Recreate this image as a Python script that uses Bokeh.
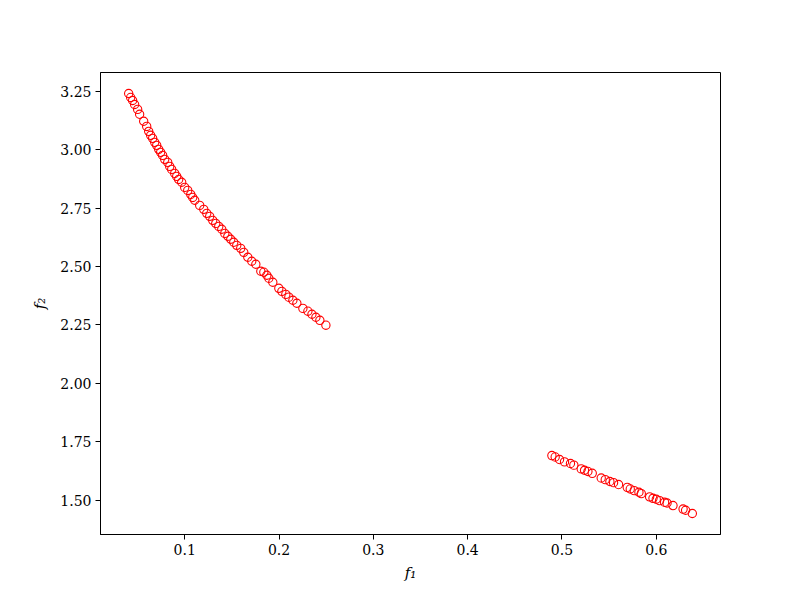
from bokeh.plotting import figure
from bokeh.models import FixedTicker, PrintfTickFormatter, Range1d, ColumnDataSource
from bokeh.embed import file_html
from bokeh.resources import INLINE

# Pareto front, first segment
f1_a = [0.0406, 0.0427, 0.0448, 0.0469, 0.0501, 0.0522, 0.0565, 0.0597, 0.0618, 0.0639,
        0.0660, 0.0682, 0.0703, 0.0724, 0.0745, 0.0766, 0.0788, 0.0820, 0.0841, 0.0862,
        0.0894, 0.0915, 0.0936, 0.0968, 0.1000, 0.1032, 0.1064, 0.1085, 0.1106, 0.1159,
        0.1202, 0.1234, 0.1265, 0.1297, 0.1329, 0.1361, 0.1393, 0.1425, 0.1457, 0.1488,
        0.1520, 0.1552, 0.1594, 0.1626, 0.1669, 0.1711, 0.1754, 0.1807, 0.1839, 0.1871,
        0.1892, 0.1934, 0.1998, 0.2030, 0.2072, 0.2104, 0.2147, 0.2189, 0.2253, 0.2306,
        0.2349, 0.2391, 0.2433, 0.2497]
f2_a = [3.241, 3.224, 3.211, 3.194, 3.173, 3.152, 3.122, 3.100, 3.079, 3.062,
        3.049, 3.032, 3.019, 3.002, 2.989, 2.976, 2.959, 2.946, 2.929, 2.916,
        2.899, 2.886, 2.873, 2.861, 2.839, 2.826, 2.809, 2.796, 2.784, 2.762,
        2.745, 2.728, 2.715, 2.698, 2.685, 2.672, 2.660, 2.642, 2.630, 2.617,
        2.604, 2.591, 2.578, 2.561, 2.540, 2.523, 2.510, 2.480, 2.476, 2.463,
        2.450, 2.433, 2.407, 2.394, 2.381, 2.369, 2.356, 2.343, 2.321, 2.309,
        2.296, 2.283, 2.270, 2.249]

# Pareto front, second segment
f1_b = [0.4893, 0.4928, 0.4974, 0.5027, 0.5090, 0.5126, 0.5204, 0.5239, 0.5275, 0.5321,
        0.5416, 0.5459, 0.5508, 0.5547, 0.5600, 0.5692, 0.5724, 0.5766, 0.5816, 0.5841,
        0.5929, 0.5965, 0.6000, 0.6035, 0.6088, 0.6114, 0.6177, 0.6284, 0.6311, 0.6382]
f2_b = [1.691, 1.685, 1.674, 1.664, 1.657, 1.650, 1.634, 1.628, 1.623, 1.615,
        1.595, 1.588, 1.580, 1.575, 1.567, 1.555, 1.548, 1.541, 1.534, 1.528,
        1.514, 1.508, 1.504, 1.498, 1.491, 1.488, 1.477, 1.462, 1.457, 1.443]

x_ticks = [0.1, 0.2, 0.3, 0.4, 0.5, 0.6]
y_ticks = [1.50, 1.75, 2.00, 2.25, 2.50, 2.75, 3.00, 3.25]

xs = f1_a + f1_b
ys = f2_a + f2_b
xmin, xmax = min(xs), max(xs)
ymin, ymax = min(ys), max(ys)
mx = 0.05 * (xmax - xmin)
my = 0.05 * (ymax - ymin)

FONT = "DejaVu Serif"

p = figure(frame_width=620, frame_height=462,
           x_range=Range1d(xmin - mx, xmax + mx),
           y_range=Range1d(ymin - my, ymax + my),
           output_backend="svg", toolbar_location=None,
           min_border_left=100, min_border_right=72,
           min_border_top=72, min_border_bottom=58)

p.background_fill_color = "white"
p.border_fill_color = "white"
p.outline_line_color = "black"
p.outline_line_width = 1
p.xgrid.visible = False
p.ygrid.visible = False

src = ColumnDataSource(dict(x=xs, y=ys))
p.scatter("x", "y", source=src, size=8.3, marker="circle",
          fill_color=None, line_color="red", line_width=1.1)

p.xaxis.ticker = FixedTicker(ticks=x_ticks)
p.yaxis.ticker = FixedTicker(ticks=y_ticks)
p.xaxis.formatter = PrintfTickFormatter(format="%.1f")
p.yaxis.formatter = PrintfTickFormatter(format="%.2f")

for ax in (p.xaxis, p.yaxis):
    ax.minor_tick_line_color = None
    ax.major_tick_out = 5
    ax.major_tick_in = 0
    ax.major_tick_line_color = "black"
    ax.axis_line_color = "black"
    ax.major_label_text_font = FONT
    ax.major_label_text_font_size = "14px"
    ax.major_label_text_color = "black"
    ax.major_label_standoff = 4
    ax.axis_label_text_font = FONT
    ax.axis_label_text_font_size = "15px"
    ax.axis_label_text_font_style = "italic"
    ax.axis_label_text_color = "black"

p.xaxis.axis_label = "f\u2081"
p.yaxis.axis_label = "f\u2082"
p.xaxis.axis_label_standoff = 6
p.yaxis.axis_label_standoff = 8

open("out.html", "w").write(file_html(p, INLINE))
